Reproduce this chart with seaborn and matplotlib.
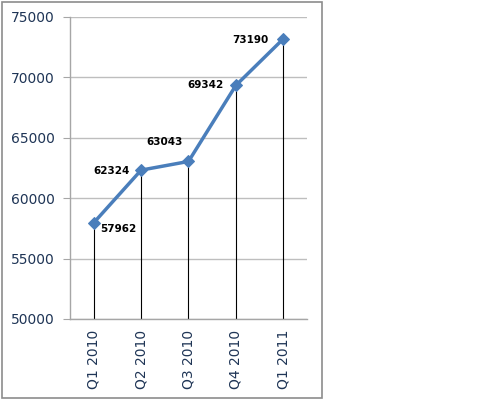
import matplotlib
matplotlib.use("Agg")
import matplotlib.pyplot as plt
import seaborn as sns
import pandas as pd
from matplotlib.patches import Rectangle

# --- Data ---
quarters = ["Q1 2010", "Q2 2010", "Q3 2010", "Q4 2010", "Q1 2011"]
values = [57962, 62324, 63043, 69342, 73190]
# label offsets in pixels (dx, dy) relative to each point
label_offsets = [(25, -6), (-30, -1), (-24, 19), (-30, 0), (-33, -1)]

df = pd.DataFrame({"Quarter": quarters, "Value": values})
df["x"] = range(len(df))

sns.set_style("white")
plt.rcParams["font.family"] = ["DejaVu Sans"]

fig = plt.figure(figsize=(4.85, 4.0), dpi=100)
ax = fig.add_axes([70 / 485, 1 - 319 / 400, 237 / 485, 302 / 400])

line_color = "#4A7EBB"
tick_color = "#1F3556"

# drop lines from each point to the axis floor
ax.vlines(df["x"], 50000, df["Value"], color="#000000", linewidth=0.8, zorder=2)

sns.lineplot(data=df, x="x", y="Value", ax=ax, color=line_color, linewidth=2.5,
             marker="D", markersize=6, markeredgecolor=line_color, zorder=3)

for xi, v, (dx, dy) in zip(df["x"], df["Value"], label_offsets):
    ax.annotate(f"{v}", (xi, v), xytext=(dx, dy), textcoords="offset pixels",
                ha="center", va="center", fontsize=7.5, fontweight="bold", color="#000000")

ax.set_xlim(-0.5, 4.5)
ax.set_ylim(50000, 75000)
ax.set_yticks(range(50000, 75001, 5000))
ax.set_xticks(df["x"])
ax.set_xticklabels(quarters, rotation=90)
ax.yaxis.grid(True, color="#BEBEBE", linewidth=1)
ax.set_axisbelow(True)
ax.set_xlabel("")
ax.set_ylabel("")

for side in ["top", "right"]:
    ax.spines[side].set_visible(False)
for side in ["left", "bottom"]:
    ax.spines[side].set_color("#A6A6A6")
    ax.spines[side].set_linewidth(1)

ax.tick_params(axis="y", colors=tick_color, labelsize=10, length=5, pad=6, left=True, color="#A6A6A6")
ax.tick_params(axis="x", colors=tick_color, labelsize=10, length=0, pad=8)

# outer chart border
fig.patches.append(Rectangle((2 / 485, 2 / 400), 320 / 485, 396 / 400, transform=fig.transFigure,
                             fill=False, edgecolor="#8C8C8C", linewidth=1.2))

fig.savefig("out.png", dpi=100, facecolor="white")
